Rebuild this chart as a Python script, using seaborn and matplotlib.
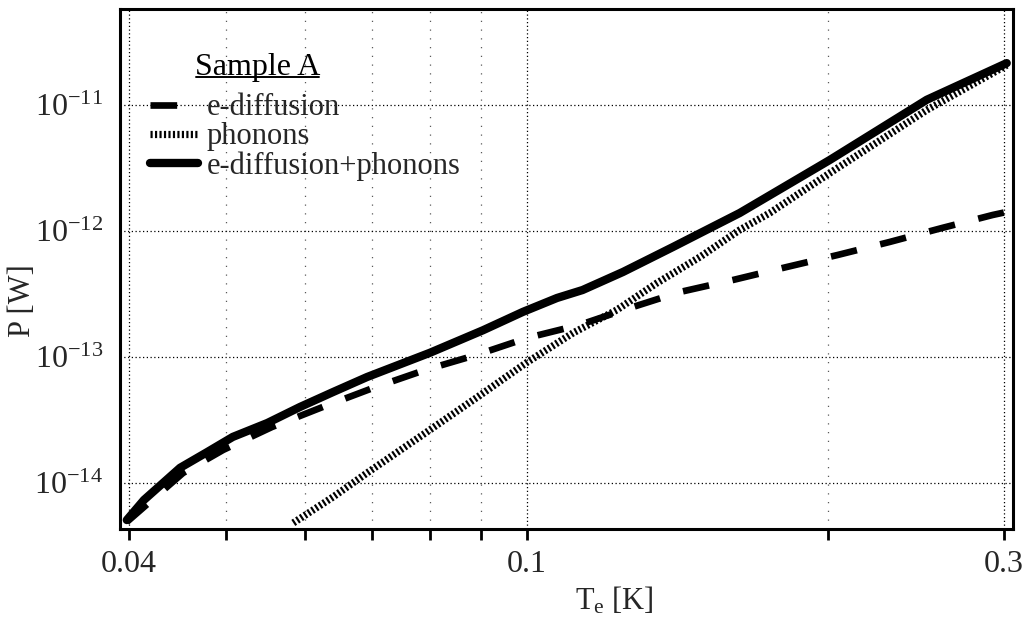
import numpy as np
import pandas as pd
import matplotlib
matplotlib.use("Agg")
import matplotlib.pyplot as plt
import seaborn as sns
from matplotlib.lines import Line2D
from matplotlib.ticker import FixedLocator, NullLocator, FixedFormatter, NullFormatter

# ---- data ----
T_diff = [0.0398, 0.0453, 0.0497, 0.0556, 0.0625, 0.0702, 0.0791, 0.0891, 0.1002,
          0.113, 0.1268, 0.1423, 0.1607, 0.182, 0.2046, 0.2306, 0.2606, 0.2924, 0.300]
P_diff = [4.9e-15, 1.20e-14, 1.83e-14, 2.78e-14, 4.01e-14, 5.68e-14, 7.88e-14, 1.04e-13, 1.42e-13,
          1.80e-13, 2.45e-13, 3.28e-13, 4.08e-13, 5.18e-13, 6.45e-13, 8.18e-13, 1.06e-12, 1.34e-12, 1.40e-12]

T_phon = [0.0584, 0.064, 0.0692, 0.08, 0.0893, 0.0998, 0.1112, 0.123, 0.1349, 0.149,
          0.1633, 0.175, 0.2009, 0.2512, 0.302]
P_phon = [4.82e-15, 7.74e-15, 1.20e-14, 2.64e-14, 4.82e-14, 8.95e-14, 1.55e-13, 2.36e-13, 3.86e-13, 6.22e-13,
          1.02e-12, 1.39e-12, 2.88e-12, 9.12e-12, 2.07e-11]

T_tot = [0.0398, 0.0414, 0.045, 0.0479, 0.0508, 0.055, 0.0593, 0.064, 0.0692, 0.08, 0.0904, 0.0991,
         0.1072, 0.1137, 0.1248, 0.14, 0.149, 0.1633, 0.2009, 0.2512, 0.302]
P_tot = [5.08e-15, 7.33e-15, 1.32e-14, 1.76e-14, 2.32e-14, 2.99e-14, 4.01e-14, 5.27e-14, 6.93e-14, 1.08e-13,
         1.63e-13, 2.28e-13, 2.94e-13, 3.40e-13, 4.73e-13, 7.46e-13, 9.6e-13, 1.39e-12, 3.66e-12, 1.10e-11, 2.15e-11]

labels = ["e-diffusion", "phonons", "e-diffusion+phonons"]
legend_title = "Sample A"
x_major = [0.04, 0.1, 0.3]
x_major_labels = ["0.04", "0.1", "0.3"]
x_minor = [0.05, 0.06, 0.07, 0.08, 0.09, 0.2]
y_major = [1e-14, 1e-13, 1e-12, 1e-11]
y_major_labels = [r"$10^{-14}$", r"$10^{-13}$", r"$10^{-12}$", r"$10^{-11}$"]

# ---- style ----
sns.set_theme(style="white")
plt.rcParams["font.family"] = ["Liberation Serif", "DejaVu Serif"]
plt.rcParams["mathtext.fontset"] = "custom"
plt.rcParams["mathtext.rm"] = "Liberation Serif"
plt.rcParams["mathtext.it"] = "Liberation Serif:italic"

fig = plt.figure(figsize=(10.31, 6.17), dpi=100)
ax = fig.add_axes([0.1164, 0.1426, 0.866, 0.8428])

df_d = pd.DataFrame({"T": T_diff, "P": P_diff})
df_p = pd.DataFrame({"T": T_phon, "P": P_phon})
df_t = pd.DataFrame({"T": T_tot, "P": P_tot})

sns.lineplot(data=df_d, x="T", y="P", ax=ax, color="black", lw=4.8,
             linestyle=(0, (4.0, 3.6)), label=labels[0], estimator=None, zorder=3)
sns.lineplot(data=df_p, x="T", y="P", ax=ax, color="black", lw=5.2,
             linestyle=(0, (0.3, 0.32)), label=labels[1], estimator=None, zorder=3)
sns.lineplot(data=df_t, x="T", y="P", ax=ax, color="black", lw=6.0,
             linestyle="-", label=labels[2], estimator=None, zorder=4,
             solid_capstyle="round", solid_joinstyle="round")

ax.set_xscale("log")
ax.set_yscale("log")
ax.set_xlim(0.03918, 0.3063)
ax.set_ylim(4.31e-15, 5.78e-11)

ax.xaxis.set_major_locator(FixedLocator(x_major))
ax.xaxis.set_major_formatter(FixedFormatter(x_major_labels))
ax.xaxis.set_minor_locator(FixedLocator(x_minor))
ax.xaxis.set_minor_formatter(NullFormatter())
ax.yaxis.set_major_locator(FixedLocator(y_major))
ax.yaxis.set_major_formatter(FixedFormatter(y_major_labels))
ax.yaxis.set_minor_locator(NullLocator())

ax.tick_params(axis="x", which="both", direction="out", length=8, width=2,
               color="black", labelsize=23, pad=7, bottom=True)
ax.tick_params(axis="y", which="both", length=0, labelsize=23, pad=12, left=True)

ax.grid(which="major", axis="both", color="black", linestyle=(0, (1, 2)), lw=0.9)
ax.grid(which="minor", axis="x", color="0.35", linestyle=(0, (1, 6)), lw=0.9)

for s in ax.spines.values():
    s.set_color("black")
    s.set_linewidth(2.2)
    s.set_visible(True)

ax.set_xlabel(r"T$_\mathregular{e}$ [K]", fontsize=22)
ax.set_ylabel("P [W]", fontsize=22)
ax.xaxis.set_label_coords(0.554, -0.108)
ax.yaxis.set_label_coords(-0.093, 0.44)

leg = ax.legend(loc="upper left", bbox_to_anchor=(0.034, 0.838), frameon=False,
                fontsize=22, handlelength=1.55, handletextpad=0.3, labelspacing=0.0,
                borderpad=0, borderaxespad=0)

title = ax.text(0.084, 0.888, legend_title, transform=ax.transAxes, fontsize=23,
                ha="left", va="center", color="black")

fig.canvas.draw()
r = fig.canvas.get_renderer()
tb = title.get_window_extent(r)
inv = fig.transFigure.inverted()
(x0, y0), (x1, _) = inv.transform([(tb.x0 + 1, tb.y0 + 5), (tb.x1 - 1, tb.y0 + 5)])
fig.add_artist(Line2D([x0, x1], [y0, y0], color="black", lw=1.4, transform=fig.transFigure))

fig.savefig("out.png", dpi=100, facecolor="white")
